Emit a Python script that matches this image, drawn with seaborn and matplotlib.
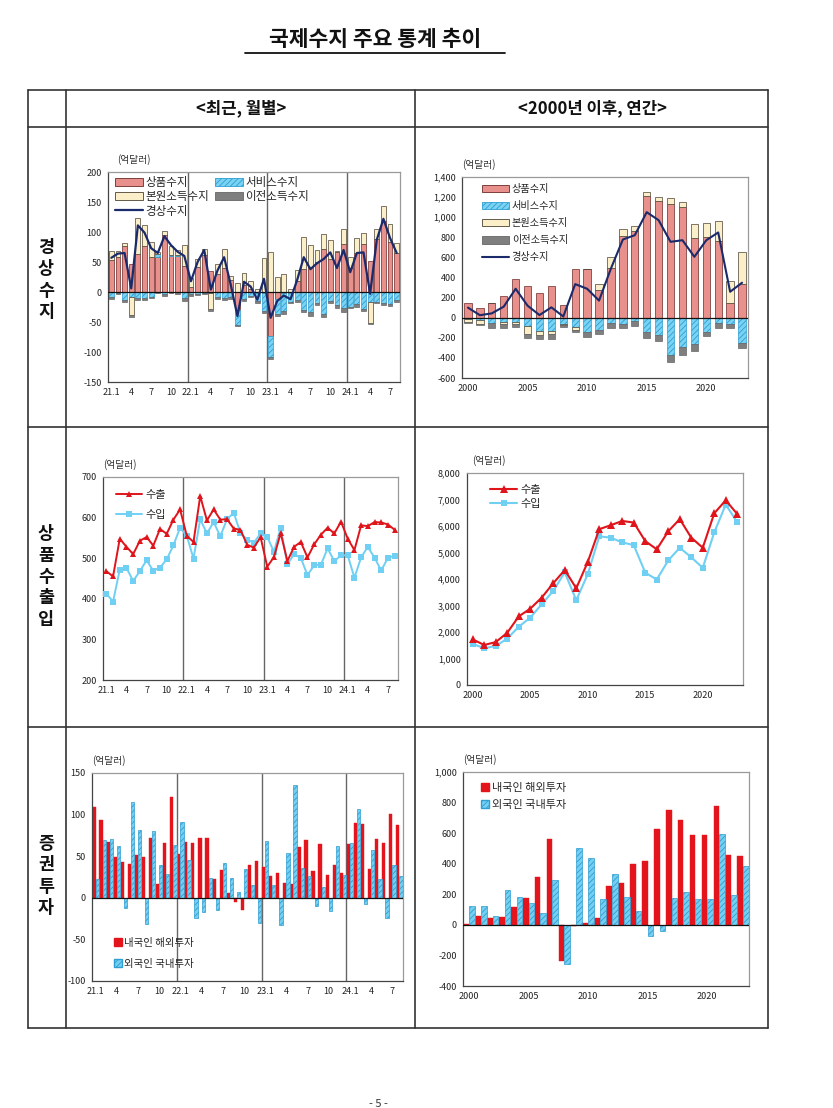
import numpy as np
import pandas as pd
import matplotlib
matplotlib.use("Agg")
import matplotlib.pyplot as plt
from matplotlib.patches import Patch
from matplotlib.lines import Line2D
from matplotlib.ticker import FuncFormatter
import seaborn as sns

# ------------------------------------------------------------------ data
month_keys = ["21.1", "21.2", "21.3", "21.4", "21.5", "21.6", "21.7", "21.8", "21.9", "21.10", "21.11", "21.12",
              "22.1", "22.2", "22.3", "22.4", "22.5", "22.6", "22.7", "22.8", "22.9", "22.10", "22.11", "22.12",
              "23.1", "23.2", "23.3", "23.4", "23.5", "23.6", "23.7", "23.8", "23.9", "23.10", "23.11", "23.12",
              "24.1", "24.2", "24.3", "24.4", "24.5", "24.6", "24.7", "24.8"]
month_tick_labels = ["21.1", "4", "7", "10", "22.1", "4", "7", "10", "23.1", "4", "7", "10", "24.1", "4", "7"]
years = [2000, 2001, 2002, 2003, 2004, 2005, 2006, 2007, 2008, 2009, 2010, 2011,
         2012, 2013, 2014, 2015, 2016, 2017, 2018, 2019, 2020, 2021, 2022, 2023]
year_tick_labels = ["2000", "2005", "2010", "2015", "2020"]

# 경상수지 (monthly)
goods_m = [53, 58, 76, 47, 64, 76, 58, 58, 95, 60, 60, 43,
           8, 42, 62, 35, 30, 40, 20, -30, 12, 5, -2, -2,
           -74, -12, -1, -1, 19, 38, 42, 50, 72, 55, 66, 80,
           40, 65, 80, 51, 88, 118, 83, 65]
services_m = [-8, -2, -14, -8, -10, -10, -8, 5, -4, 2, 2, -10,
              -3, -3, -1, -1, -8, -10, -8, -25, -12, -6, -13, -30,
              -35, -25, -30, -15, -13, -30, -33, -18, -36, -15, -22, -27,
              -25, -20, -28, -17, -16, -18, -20, -13]
primary_m = [15, 10, 6, -30, 60, 36, 25, 4, 7, 15, 8, 35,
             15, 13, 10, -28, 17, 32, 6, 15, 20, 13, 5, 57,
             67, 25, 30, 5, 17, 54, 36, 20, 24, 32, 2, 25,
             18, 25, 19, -35, 17, 26, 30, 17]
transfer_m = [-3, -2, -3, -3, -3, -3, -2, -2, -3, -2, -3, -5,
              -3, -2, -2, -2, -3, -3, -3, -2, -3, -3, -3, -3,
              -2, -3, -5, -3, -3, -4, -7, -3, -5, -4, -5, -6,
              -2, -5, -4, -2, -2, -4, -3, -4]
current_m = [57, 64, 65, 6, 111, 99, 73, 65, 93, 78, 67, 60,
             18, 50, 70, 4, 36, 58, 12, -40, 17, 9, -13, 22,
             -43, -15, -6, -12, 20, 58, 38, 48, 55, 66, 40, 70,
             33, 65, 66, -3, 87, 122, 90, 65]

# 경상수지 (annual)
goods_y = [150, 95, 145, 220, 390, 320, 245, 320, 122, 480, 480, 280,
           490, 810, 860, 1210, 1160, 1135, 1100, 795, 805, 760, 150, 340]
services_y = [-15, -25, -55, -45, -45, -85, -130, -130, -60, -95, -140, -120,
              -50, -65, -35, -140, -170, -370, -295, -265, -140, -55, -65, -250]
primary_y = [-30, -40, 0, -15, -15, -80, -45, -35, -10, -25, 0, 60,
             110, 75, 55, 40, 45, 55, 50, 140, 140, 200, 215, 315]
transfer_y = [-5, -5, -45, -40, -30, -40, -40, -45, -20, -25, -50, -45,
              -50, -40, -50, -60, -60, -75, -75, -65, -45, -45, -35, -55]
current_y = [100, 25, 43, 110, 288, 120, 26, 103, 12, 334, 288, 170,
             490, 778, 821, 1050, 970, 755, 771, 606, 771, 848, 258, 348]

# 상품수출입 (monthly)
exports_m = [468, 455, 548, 528, 510, 543, 552, 531, 572, 560, 595, 620,
             555, 540, 653, 593, 620, 595, 596, 573, 570, 533, 526, 552,
             479, 503, 562, 493, 528, 540, 502, 534, 558, 575, 561, 590,
             548, 520, 581, 579, 589, 588, 583, 570]
imports_m = [413, 393, 472, 476, 444, 468, 495, 469, 477, 497, 532, 575,
             555, 499, 596, 561, 589, 554, 596, 612, 562, 546, 538, 561,
             552, 516, 575, 485, 510, 501, 458, 483, 484, 524, 493, 507,
             507, 452, 502, 528, 501, 470, 501, 506]

# 상품수출입 (annual)
exports_y = [1720, 1510, 1620, 1970, 2590, 2880, 3300, 3840, 4340, 3650, 4640, 5880,
             6030, 6190, 6130, 5430, 5120, 5800, 6260, 5560, 5180, 6480, 6970, 6450]
imports_y = [1550, 1390, 1470, 1750, 2200, 2540, 3050, 3550, 4250, 3200, 4180, 5610,
             5560, 5380, 5280, 4240, 3980, 4700, 5180, 4820, 4420, 5760, 6810, 6140]

# 증권투자 (monthly)
res_abroad_m = [109, 93, 67, 49, 43, 41, 51, 49, 72, 17, 66, 121,
                53, 67, 66, 72, 72, 23, 34, 6, -5, -15, 40, 44,
                37, 26, 30, 18, 16, 61, 69, 32, 65, 28, 40, 30,
                65, 90, 89, 35, 71, 66, 101, 87]
foreign_dom_m = [22, 70, 71, 62, -12, 115, 81, -31, 80, 39, 29, 63,
                 91, 45, -24, -17, 24, -15, 42, 24, 7, 35, 15, -30,
                 68, 15, -33, 54, 136, 36, 26, -10, 13, -16, 62, 28,
                 66, 107, -8, 57, 23, -24, 39, 26]

# 증권투자 (annual)
res_abroad_y = [5, 55, 45, 52, 115, 178, 312, 563, -235, -10, 12, 42,
                256, 275, 400, 418, 630, 750, 687, 590, 585, 778, 455, 450]
foreign_dom_y = [125, 125, 58, 228, 182, 143, 80, 295, -255, 500, 440, 172,
                 330, 183, 92, -72, -40, 178, 215, 172, 172, 592, 197, 383]

# ------------------------------------------------------------------ style
sns.set_theme(style="white")
plt.rcParams["font.family"] = ["Noto Sans CJK KR", "DejaVu Sans"]
plt.rcParams["axes.unicode_minus"] = False
plt.rcParams["hatch.linewidth"] = 0.6

C_GOODS = "#E8908B"
C_GOODS_E = "#6B2A26"
C_SERV = "#7AD3F2"
C_SERV_E = "#2E9ED3"
C_PRIM = "#FBEFC9"
C_PRIM_E = "#4A4132"
C_TRANS = "#7F7F7F"
C_CA = "#1B2A6B"
C_EXP = "#E0141B"
C_IMP = "#6FD0F4"
C_RES = "#E3141B"
C_FOR = "#74CFF1"

W, H = 833, 1108
fig = plt.figure(figsize=(W / 100, H / 100), dpi=100)
fig.patch.set_facecolor("white")


def add_ax(x0, y0, x1, y1):
    return fig.add_axes([x0 / W, 1 - y1 / H, (x1 - x0) / W, (y1 - y0) / H])


def fline(xs, ys, lw=1.2, color="#333333"):
    fig.add_artist(Line2D([x / W for x in xs], [1 - y / H for y in ys],
                          transform=fig.transFigure, lw=lw, color=color))


def style_ax(ax):
    ax.set_facecolor("white")
    for s in ("top", "right"):
        ax.spines[s].set_color("#9a9a9a")
        ax.spines[s].set_linewidth(0.9)
    for s in ("left", "bottom"):
        ax.spines[s].set_color("#444444")
        ax.spines[s].set_linewidth(0.9)
    ax.tick_params(axis="both", labelsize=6.5, colors="#222222", length=2.5,
                   width=0.7, direction="out", pad=2)
    ax.grid(False)
    ax.set_xlabel("")
    ax.set_ylabel("")


def unit_label(ax, dx=0.0, dy=1.035):
    ax.text(dx, dy, "(억달러)", transform=ax.transAxes, fontsize=7,
            color="#333333", ha="left", va="bottom")


def stacked(ax, series, styles, width):
    x = np.arange(len(series[0]))
    pos = np.zeros(len(x))
    neg = np.zeros(len(x))
    for vals, st in zip(series, styles):
        v = np.asarray(vals, dtype=float)
        bottom = np.where(v >= 0, pos, neg)
        ax.bar(x, v, bottom=bottom, width=width, **st)
        pos = pos + np.where(v >= 0, v, 0)
        neg = neg + np.where(v < 0, v, 0)


def year_separators(ax, n):
    for b in range(12, n, 12):
        ax.axvline(b - 0.5, color="#666666", lw=1.0, zorder=1)


comma = FuncFormatter(lambda v, p: f"{v:,.0f}")

bar_styles = [
    dict(color=C_GOODS, edgecolor=C_GOODS_E, linewidth=0.5, zorder=2),
    dict(color=C_SERV, edgecolor=C_SERV_E, linewidth=0.5, hatch="//////", zorder=2),
    dict(color=C_PRIM, edgecolor=C_PRIM_E, linewidth=0.5, zorder=2),
    dict(color=C_TRANS, edgecolor="#666666", linewidth=0.5, zorder=2),
]

# ------------------------------------------------------------------ page / table
fig.text(375 / W, 1 - 40 / H, "국제수지 주요 통계 추이", ha="center", va="center",
         fontsize=15.5, fontweight="bold", color="#111111")
fline([245, 505], [53, 53], lw=1.3, color="#111111")

fline([28, 768], [90, 90])
fline([28, 768], [127, 127])
fline([28, 768], [427, 427])
fline([28, 768], [727, 727])
fline([28, 768], [1028, 1028])
fline([28, 28], [90, 1028])
fline([66, 66], [90, 1028])
fline([415, 415], [90, 1028])
fline([768, 768], [90, 1028])

fig.text(241 / W, 1 - 108 / H, "<최근, 월별>", ha="center", va="center",
         fontsize=12, fontweight="bold", color="#111111")
fig.text(592 / W, 1 - 108 / H, "<2000년 이후, 연간>", ha="center", va="center",
         fontsize=12, fontweight="bold", color="#111111")

for label, yc in (("경상수지", 280), ("상품수출입", 577), ("증권투자", 876)):
    fig.text(46 / W, 1 - yc / H, "\n".join(label), ha="center", va="center",
             fontsize=12.5, fontweight="bold", color="#111111", linespacing=1.25)

fig.text(378 / W, 1 - 1104 / H, "- 5 -", ha="center", va="center",
         fontsize=8, color="#333333")

nm = len(month_keys)
ny = len(years)
xm = np.arange(nm)
xy = np.arange(ny)
month_tick_pos = list(range(0, nm, 3))
year_tick_pos = [years.index(int(t)) for t in year_tick_labels]

# ------------------------------------------------------------------ 1. current account, monthly
ax = add_ax(108, 172, 400, 382)
stacked(ax, [goods_m, services_m, primary_m, transfer_m], bar_styles, 0.72)
ax.axhline(0, color="#111111", lw=0.9, zorder=3)
year_separators(ax, nm)
sns.lineplot(x=xm, y=current_m, ax=ax, color=C_CA, lw=1.6, zorder=4, legend=False)
ax.set_xlim(-0.5, nm - 0.5)
ax.set_ylim(-150, 200)
ax.set_yticks(np.arange(-150, 201, 50))
ax.set_xticks(month_tick_pos)
ax.set_xticklabels(month_tick_labels)
style_ax(ax)
unit_label(ax, 0.03)
handles = [Patch(facecolor=C_GOODS, edgecolor=C_GOODS_E, lw=0.6, label="상품수지"),
           Patch(facecolor=C_PRIM, edgecolor=C_PRIM_E, lw=0.6, label="본원소득수지"),
           Line2D([], [], color=C_CA, lw=1.6, label="경상수지"),
           Patch(facecolor=C_SERV, edgecolor=C_SERV_E, lw=0.6, hatch="//////", label="서비스수지"),
           Patch(facecolor=C_TRANS, edgecolor="#666666", lw=0.6, label="이전소득수지")]
ax.legend(handles=handles, ncol=2, loc="upper left", bbox_to_anchor=(0.0, 1.015),
          frameon=False, fontsize=8.3, handlelength=2.4, handleheight=0.7,
          labelspacing=0.12, columnspacing=0.5, handletextpad=0.25, borderaxespad=0.2)

# ------------------------------------------------------------------ 2. current account, annual
ax = add_ax(462, 177, 748, 378)
stacked(ax, [goods_y, services_y, primary_y, transfer_y], bar_styles, 0.62)
ax.axhline(0, color="#111111", lw=0.9, zorder=3)
sns.lineplot(x=xy, y=current_y, ax=ax, color=C_CA, lw=1.5, zorder=4, legend=False)
ax.set_xlim(-0.5, ny - 0.5)
ax.set_ylim(-600, 1400)
ax.set_yticks(np.arange(-600, 1401, 200))
ax.yaxis.set_major_formatter(comma)
ax.set_xticks(year_tick_pos)
ax.set_xticklabels(year_tick_labels)
style_ax(ax)
unit_label(ax, 0.0)
handles = [Patch(facecolor=C_GOODS, edgecolor=C_GOODS_E, lw=0.6, label="상품수지"),
           Patch(facecolor=C_SERV, edgecolor=C_SERV_E, lw=0.6, hatch="//////", label="서비스수지"),
           Patch(facecolor=C_PRIM, edgecolor=C_PRIM_E, lw=0.6, label="본원소득수지"),
           Patch(facecolor=C_TRANS, edgecolor="#666666", lw=0.6, label="이전소득수지"),
           Line2D([], [], color=C_CA, lw=1.5, label="경상수지")]
ax.legend(handles=handles, loc="upper left", bbox_to_anchor=(0.05, 0.995),
          frameon=False, fontsize=7.3, handlelength=2.6, handleheight=0.75,
          labelspacing=0.7, handletextpad=0.3, borderaxespad=0.2)

# ------------------------------------------------------------------ 3. trade, monthly
ax = add_ax(103, 477, 398, 680)
year_separators(ax, nm)
sns.lineplot(x=xm, y=imports_m, ax=ax, color=C_IMP, lw=1.4, marker="s", markersize=4.3,
             markeredgewidth=0, zorder=3, legend=False)
sns.lineplot(x=xm, y=exports_m, ax=ax, color=C_EXP, lw=1.4, marker="^", markersize=4.6,
             markeredgewidth=0, zorder=4, legend=False)
ax.set_xlim(-0.5, nm - 0.5)
ax.set_ylim(200, 700)
ax.set_yticks(np.arange(200, 701, 100))
ax.set_xticks(month_tick_pos)
ax.set_xticklabels(month_tick_labels)
style_ax(ax)
unit_label(ax, 0.0)
handles = [Line2D([], [], color=C_EXP, lw=1.4, marker="^", markersize=5, markeredgewidth=0, label="수출"),
           Line2D([], [], color=C_IMP, lw=1.4, marker="s", markersize=4.5, markeredgewidth=0, label="수입")]
ax.legend(handles=handles, loc="upper left", bbox_to_anchor=(0.02, 0.97),
          frameon=False, fontsize=8, handlelength=2.4, labelspacing=0.95,
          handletextpad=0.3, borderaxespad=0.2)

# ------------------------------------------------------------------ 4. trade, annual
ax = add_ax(467, 473, 743, 685)
sns.lineplot(x=xy, y=imports_y, ax=ax, color=C_IMP, lw=1.5, marker="s", markersize=5,
             markeredgewidth=0, zorder=3, legend=False)
sns.lineplot(x=xy, y=exports_y, ax=ax, color=C_EXP, lw=1.5, marker="^", markersize=5.5,
             markeredgewidth=0, zorder=4, legend=False)
ax.set_xlim(-0.5, ny - 0.5)
ax.set_ylim(0, 8000)
ax.set_yticks(np.arange(0, 8001, 1000))
ax.yaxis.set_major_formatter(comma)
ax.set_xticks(year_tick_pos)
ax.set_xticklabels(year_tick_labels)
style_ax(ax)
unit_label(ax, 0.02)
handles = [Line2D([], [], color=C_EXP, lw=1.5, marker="^", markersize=5.5, markeredgewidth=0, label="수출"),
           Line2D([], [], color=C_IMP, lw=1.5, marker="s", markersize=5, markeredgewidth=0, label="수입")]
ax.legend(handles=handles, loc="upper left", bbox_to_anchor=(0.06, 0.975),
          frameon=False, fontsize=8, handlelength=2.4, labelspacing=0.35,
          handletextpad=0.3, borderaxespad=0.2)


# ------------------------------------------------------------------ portfolio bars helper
def portfolio(ax, keys, res, forv, width):
    df = pd.DataFrame({
        "period": list(keys) * 2,
        "value": list(res) + list(forv),
        "series": ["내국인 해외투자"] * len(keys) + ["외국인 국내투자"] * len(keys),
    })
    sns.barplot(data=df, x="period", y="value", hue="series", order=list(keys),
                hue_order=["내국인 해외투자", "외국인 국내투자"], palette=[C_RES, C_FOR],
                saturation=1, width=width, dodge=True, legend=False, ax=ax, zorder=2)
    for b in ax.containers[0]:
        b.set_edgecolor(C_RES)
        b.set_linewidth(0.3)
    for b in ax.containers[1]:
        b.set_hatch("//////")
        b.set_edgecolor(C_SERV_E)
        b.set_linewidth(0.5)
    ax.axhline(0, color="#111111", lw=0.9, zorder=3)


port_handles = [Patch(facecolor=C_RES, edgecolor=C_RES, label="내국인 해외투자"),
                Patch(facecolor=C_FOR, edgecolor=C_SERV_E, hatch="//////", label="외국인 국내투자")]

# ------------------------------------------------------------------ 5. portfolio, monthly
ax = add_ax(92, 773, 403, 981)
portfolio(ax, month_keys, res_abroad_m, foreign_dom_m, 0.92)
year_separators(ax, nm)
ax.set_xlim(-0.5, nm - 0.5)
ax.set_ylim(-100, 150)
ax.set_yticks(np.arange(-100, 151, 50))
ax.set_xticks(month_tick_pos)
ax.set_xticklabels(month_tick_labels)
style_ax(ax)
unit_label(ax, 0.0)
ax.legend(handles=port_handles, loc="lower left", bbox_to_anchor=(0.05, 0.03),
          frameon=False, fontsize=7.5, handlelength=0.75, handleheight=0.75,
          labelspacing=1.05, handletextpad=0.25, borderaxespad=0.2)

# ------------------------------------------------------------------ 6. portfolio, annual
ax = add_ax(463, 772, 749, 986)
portfolio(ax, [str(y) for y in years], res_abroad_y, foreign_dom_y, 0.95)
ax.set_xlim(-0.5, ny - 0.5)
ax.set_ylim(-400, 1000)
ax.set_yticks(np.arange(-400, 1001, 200))
ax.yaxis.set_major_formatter(comma)
ax.set_xticks(year_tick_pos)
ax.set_xticklabels(year_tick_labels)
style_ax(ax)
unit_label(ax, 0.0)
ax.legend(handles=port_handles, loc="upper left", bbox_to_anchor=(0.04, 0.98),
          frameon=False, fontsize=8, handlelength=0.75, handleheight=0.75,
          labelspacing=0.6, handletextpad=0.25, borderaxespad=0.2)

fig.savefig("out.png", dpi=100, facecolor="white")
